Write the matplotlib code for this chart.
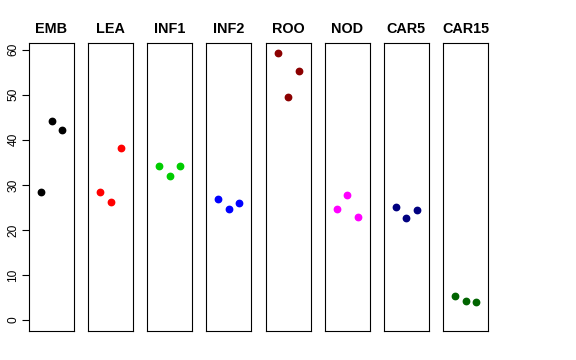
import numpy as np
import matplotlib
matplotlib.use("Agg")
import matplotlib.pyplot as plt

plt.rcParams['font.family'] = ['Liberation Sans', 'DejaVu Sans']

# groups and their three values (left, middle, right)
groups = ["EMB", "LEA", "INF1", "INF2", "ROO", "NOD", "CAR5", "CAR15"]
emb = [28.4, 44.1, 42.2]
lea = [28.5, 26.1, 38.2]
inf1 = [34.2, 32.0, 34.1]
inf2 = [26.9, 24.7, 25.9]
roo = [59.2, 49.6, 55.2]
nod = [24.7, 27.7, 22.9]
car5 = [25.0, 22.7, 24.4]
car15 = [5.3, 4.2, 4.1]
values = [emb, lea, inf1, inf2, roo, nod, car5, car15]
colors = ["black", "red", "#00CD00", "blue", "#8B0000", "magenta", "#000080", "#006400"]
reps = [1, 2, 3]
yticks = [0, 10, 20, 30, 40, 50, 60]

W, H = 576, 360
fig = plt.figure(figsize=(W / 100, H / 100), dpi=100)

left0 = 29.0
step = 59.15
pw = 45.0
top = 42.7
bottom = 330.7
ymax = max(max(v) for v in values)
ext = 0.04 * ymax

for i, (g, v, c) in enumerate(zip(groups, values, colors)):
    x0 = left0 + i * step
    ax = fig.add_axes([x0 / W, (H - bottom) / H, pw / W, (bottom - top) / H])
    ax.plot(reps, v, 'o', color=c, ms=4.6, mec=c)
    ax.set_xlim(2 - 2.14, 2 + 2.14)
    ax.set_ylim(-ext, ymax + ext)
    ax.set_xticks([])
    for s in ax.spines.values():
        s.set_linewidth(0.8)
    ax.set_title(g, fontsize=10.4, fontweight='bold', pad=7)
    if i == 0:
        ax.set_yticks(yticks)
        ax.tick_params(axis='y', length=5, width=0.8, labelsize=8.6, pad=2)
        for lab in ax.get_yticklabels():
            lab.set_rotation(90)
            lab.set_va('center')
    else:
        ax.set_yticks([])

fig.savefig("out.png", dpi=100)
